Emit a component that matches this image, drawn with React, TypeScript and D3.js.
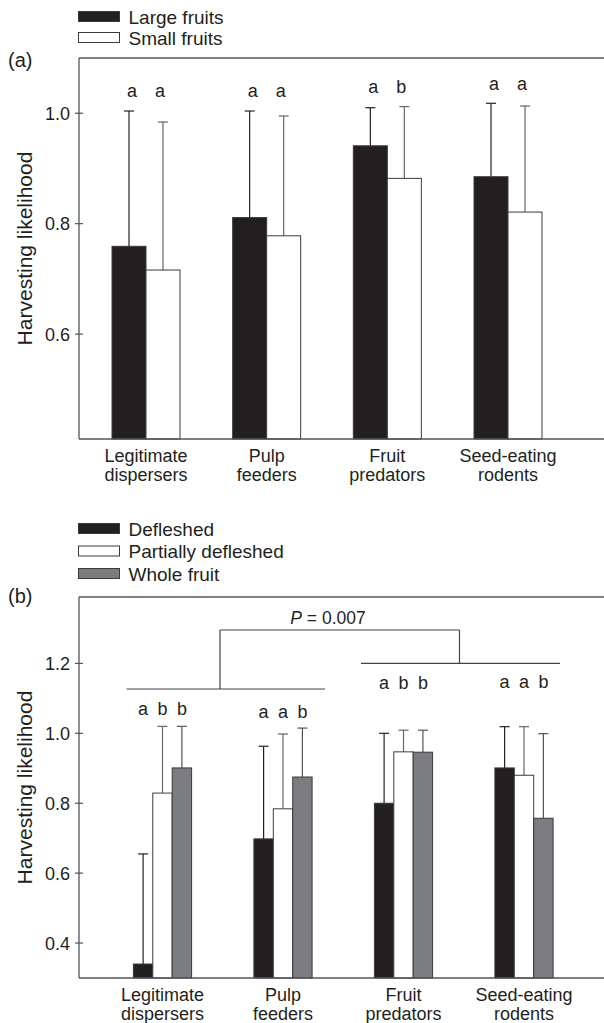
import React from "react";
import * as d3 from "d3";

// ---------- data ----------
const line1 = ["Legitimate", "Pulp", "Fruit", "Seed-eating"];
const line2 = ["dispersers", "feeders", "predators", "rodents"];
const cats = ["Legitimate dispersers", "Pulp feeders", "Fruit predators", "Seed-eating rodents"];

// panel (a)
const seriesA = ["Large fruits", "Small fruits"];
const largeMean = [0.759, 0.811, 0.941, 0.885];
const largeUpper = [1.004, 1.004, 1.01, 1.018];
const smallMean = [0.716, 0.778, 0.882, 0.821];
const smallUpper = [0.984, 0.995, 1.012, 1.013];
const lettersA = [["a", "a"], ["a", "a"], ["a", "b"], ["a", "a"]];
const letterLevelA = [1.029, 1.029, 1.036, 1.042];
const ticksA = [0.6, 0.8, 1.0];

// panel (b)
const seriesB = ["Defleshed", "Partially defleshed", "Whole fruit"];
const defleshedMean = [0.34, 0.698, 0.8, 0.901];
const defleshedUpper = [0.655, 0.963, 1.0, 1.019];
const partialMean = [0.829, 0.784, 0.947, 0.88];
const partialUpper = [1.02, 0.998, 1.009, 1.019];
const wholeMean = [0.901, 0.875, 0.946, 0.757];
const wholeUpper = [1.02, 1.015, 1.009, 0.999];
const lettersB = [["a", "b", "b"], ["a", "a", "b"], ["a", "b", "b"], ["a", "a", "b"]];
const letterLevelB = [1.052, 1.045, 1.127, 1.13];
const ticksB = [0.4, 0.6, 0.8, 1.0, 1.2];
const bracketLevels = { top: 1.2956, left: 1.1268, right: 1.2003, text: 1.3127 };
const pText = "= 0.007";

// ---------- styling ----------
const FONT = "'Liberation Sans', Arial, Helvetica, sans-serif";
const INK = "#231f20";
const AXIS = "#555";
const fillsA = ["#231f20", "#ffffff"];
const fillsB = ["#231f20", "#ffffff", "#7b7c80"];
const errColors = ["#222", "#666", "#555"];

const W = 604;
const H = 1023;
const AX_L = 79;

type PanelProps = {
  means: number[][];
  uppers: number[][];
  fills: string[];
  letters: string[][];
  letterLevels: number[];
  ticks: number[];
  yDomain: [number, number];
  yRange: [number, number];
  xRange: [number, number];
  barW: number;
  letterFromCenter?: number;
};

function Panel(p: PanelProps) {
  const y = d3.scaleLinear().domain(p.yDomain).range(p.yRange);
  const x = d3.scalePoint<string>().domain(cats).range(p.xRange);
  const nS = p.means.length;
  const bottom = p.yRange[0];
  const top = p.yRange[1];
  const barX = (ci: number, si: number) => (x(cats[ci]) as number) - (nS * p.barW) / 2 + si * p.barW;
  return (
    <g>
      {cats.map((c, ci) =>
        p.means.map((m, si) => {
          const bx = barX(ci, si);
          const yt = y(m[ci]);
          const cx = bx + p.barW / 2;
          const yu = y(p.uppers[si][ci]);
          return (
            <g key={c + si}>
              <line x1={cx} x2={cx} y1={yt} y2={yu} stroke={errColors[si]} strokeWidth={1.2} />
              <line x1={cx - 5} x2={cx + 5} y1={yu} y2={yu} stroke={errColors[si]} strokeWidth={1.2} />
              <rect x={bx} y={yt} width={p.barW} height={bottom - yt} fill={p.fills[si]} stroke="#3a3a3a" strokeWidth={1} />
            </g>
          );
        })
      )}
      {cats.map((c, ci) =>
        p.letters[ci].map((L, si) => {
          const cx =
            p.letterFromCenter !== undefined
              ? (x(c) as number) + (si - (nS - 1) / 2) * p.letterFromCenter
              : barX(ci, si) + p.barW / 2;
          return (
            <text key={c + "L" + si} x={cx} y={y(p.letterLevels[ci])} textAnchor="middle" fontSize={18} fontFamily={FONT} fill={INK}>
              {L}
            </text>
          );
        })
      )}
      <line x1={AX_L} x2={W} y1={top} y2={top} stroke={AXIS} strokeWidth={1.3} />
      <line x1={AX_L} x2={W} y1={bottom} y2={bottom} stroke={AXIS} strokeWidth={1.3} />
      <line x1={AX_L} x2={AX_L} y1={top} y2={bottom} stroke={AXIS} strokeWidth={1.3} />
      {p.ticks.map((t) => (
        <g key={t}>
          <line x1={AX_L - 4} x2={AX_L + 4} y1={y(t)} y2={y(t)} stroke={AXIS} strokeWidth={1.2} />
          <text x={AX_L - 9} y={y(t) + 6.5} textAnchor="end" fontSize={18} fontFamily={FONT} fill={INK}>
            {d3.format(".1f")(t)}
          </text>
        </g>
      ))}
      {cats.map((c, ci) => (
        <text key={c + "x"} x={x(c) as number} textAnchor="middle" fontSize={18} fontFamily={FONT} fill={INK}>
          <tspan x={x(c) as number} y={bottom + 23}>{line1[ci]}</tspan>
          <tspan x={x(c) as number} y={bottom + 42}>{line2[ci]}</tspan>
        </text>
      ))}
      <text
        transform={`translate(${32},${(top + bottom) / 2}) rotate(-90)`}
        textAnchor="middle"
        fontSize={21}
        fontFamily={FONT}
        fill={INK}
      >
        Harvesting likelihood
      </text>
    </g>
  );
}

function Legend({ names, fills, x0, y0, step }: { names: string[]; fills: string[]; x0: number; y0: number; step: number }) {
  return (
    <g>
      {names.map((n, i) => (
        <g key={n}>
          <rect x={x0} y={y0 + i * step} width={41} height={10} fill={fills[i]} stroke="#3a3a3a" strokeWidth={1} />
          <text x={x0 + 50} y={y0 + i * step + 12} fontSize={19} fontFamily={FONT} fill={INK}>
            {n}
          </text>
        </g>
      ))}
    </g>
  );
}

export default function App() {
  const yDomB: [number, number] = [0.3, 1.39];
  const yRanB: [number, number] = [978, 597];
  const xRanB: [number, number] = [162.5, 524];
  const yB = d3.scaleLinear().domain(yDomB).range(yRanB);
  const xB = d3.scalePoint<string>().domain(cats).range(xRanB);
  const leftL = (xB(cats[0]) as number) - 36;
  const leftR = (xB(cats[1]) as number) + 42;
  const rightL = (xB(cats[2]) as number) - 42.5;
  const rightR = (xB(cats[3]) as number) + 36;
  const leftMid = 220;
  const rightMid = 459.5;
  return (
    <svg width={W} height={H} style={{ position: "absolute", left: 0, top: 0, background: "#fff" }}>
      <rect width={W} height={H} fill="#fff" />
      <Legend names={seriesA} fills={fillsA} x0={78.5} y0={11.5} step={21} />
      <text x={8} y={67} fontSize={20} fontFamily={FONT} fill={INK}>(a)</text>
      <Panel
        means={[largeMean, smallMean]}
        uppers={[largeUpper, smallUpper]}
        fills={fillsA}
        letters={lettersA}
        letterLevels={letterLevelA}
        ticks={ticksA}
        yDomain={[0.41, 1.1]}
        yRange={[439, 58]}
        xRange={[146, 508]}
        barW={34}
        letterFromCenter={28}
      />
      <Legend names={seriesB} fills={fillsB} x0={78.5} y0={523.5} step={22.5} />
      <text x={8} y={603} fontSize={20} fontFamily={FONT} fill={INK}>(b)</text>
      <Panel
        means={[defleshedMean, partialMean, wholeMean]}
        uppers={[defleshedUpper, partialUpper, wholeUpper]}
        fills={fillsB}
        letters={lettersB}
        letterLevels={letterLevelB}
        ticks={ticksB}
        yDomain={yDomB}
        yRange={yRanB}
        xRange={xRanB}
        barW={19.4}
      />
      <g stroke="#444" strokeWidth={1.2} fill="none">
        <line x1={leftL} x2={leftR} y1={yB(bracketLevels.left)} y2={yB(bracketLevels.left)} />
        <line x1={rightL} x2={rightR} y1={yB(bracketLevels.right)} y2={yB(bracketLevels.right)} />
        <line x1={leftMid} x2={leftMid} y1={yB(bracketLevels.left)} y2={yB(bracketLevels.top)} />
        <line x1={rightMid} x2={rightMid} y1={yB(bracketLevels.right)} y2={yB(bracketLevels.top)} />
        <line x1={leftMid} x2={rightMid} y1={yB(bracketLevels.top)} y2={yB(bracketLevels.top)} />
      </g>
      <text x={328} y={yB(bracketLevels.text)} textAnchor="middle" fontSize={17.5} fontFamily={FONT} fill={INK}>
        <tspan fontStyle="italic">P</tspan> {pText}
      </text>
    </svg>
  );
}
